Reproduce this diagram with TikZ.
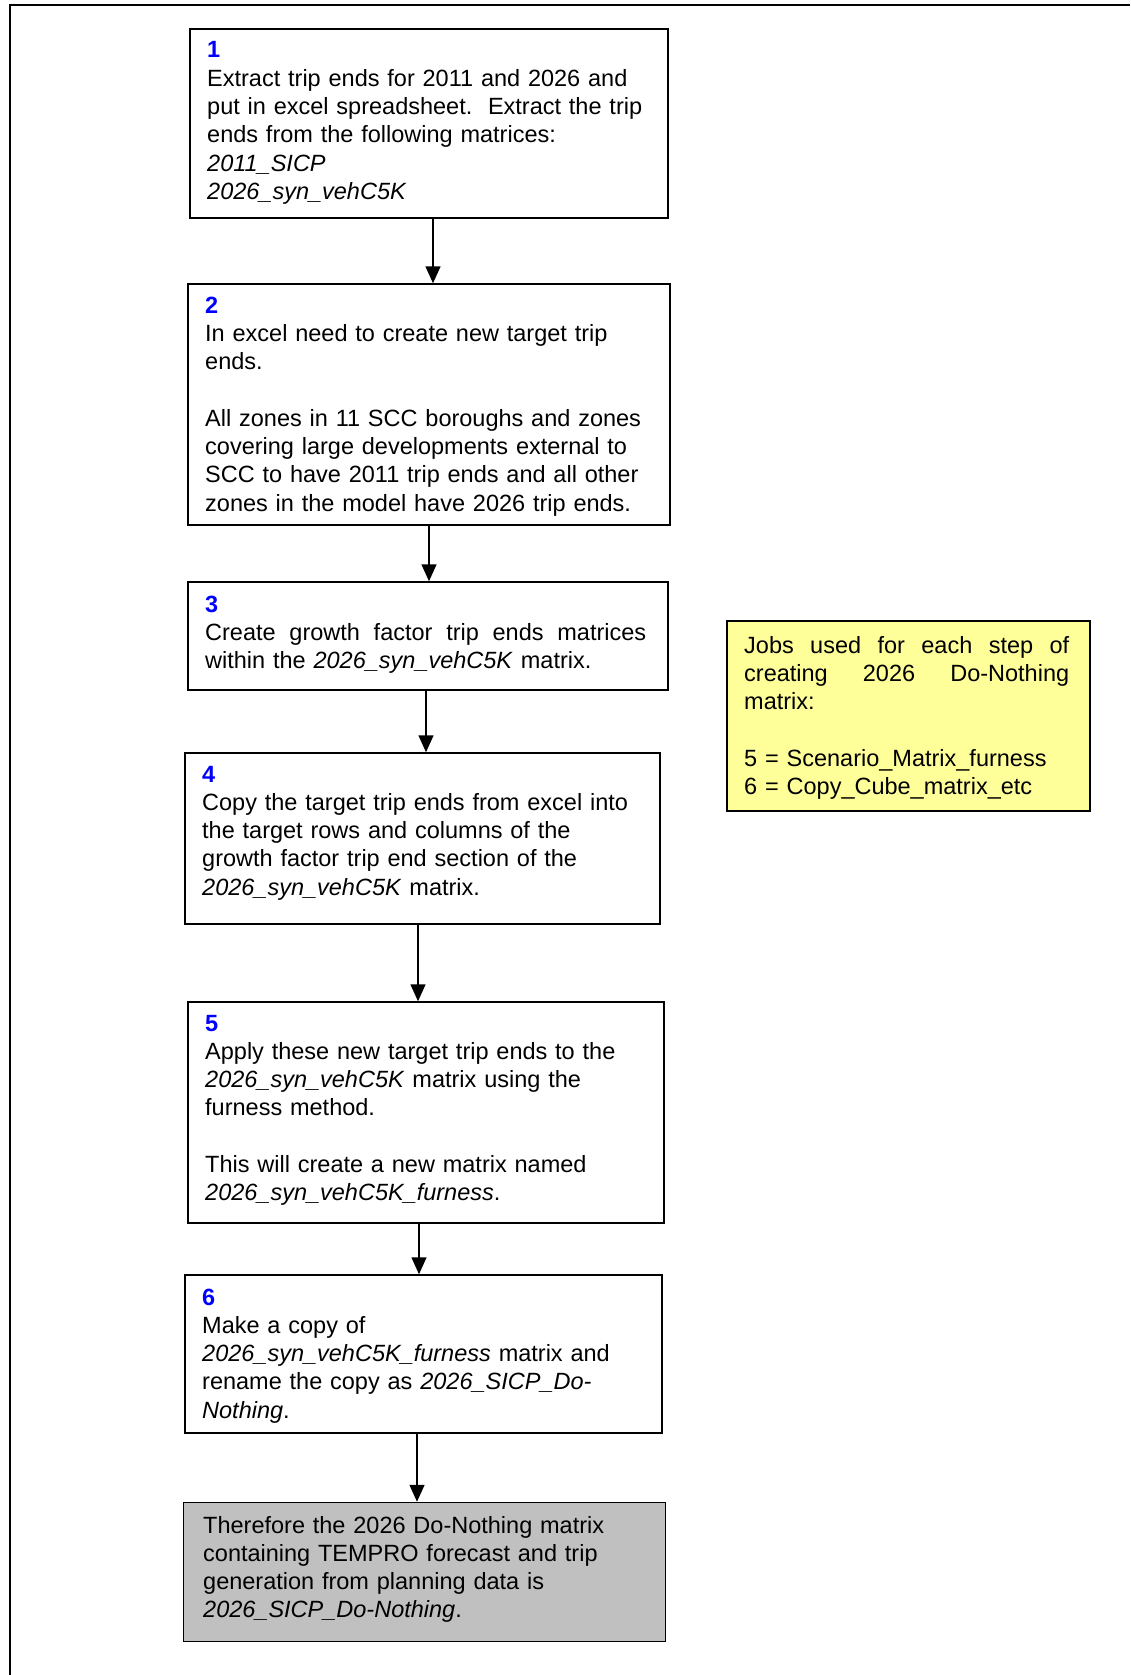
\documentclass[tikz,border=0pt]{standalone}
\usepackage{fontspec}
\setmainfont{Liberation Sans}
\usetikzlibrary{arrows.meta,calc}
\definecolor{numblue}{RGB}{0,0,255}
\definecolor{noteyellow}{RGB}{255,255,153}
\definecolor{boxgrey}{RGB}{192,192,192}
\newcommand{\stepnum}[1]{{\color{numblue}\bfseries #1}}
\begin{document}
\begin{tikzpicture}[x=1pt,y=-1pt,
  stepbox/.style={draw, line width=1.5pt, rectangle, inner sep=0pt},
  txt/.style={anchor=base west, inner sep=0pt, align=left, text width=455pt,
    font=\fontsize{23.5}{28.3}\selectfont},
  arr/.style={line width=1.5pt, -{Triangle[length=17pt,width=15pt]}}]
\useasboundingbox (0,0) rectangle (1130,1675);
% outer frame (top and left edges)
\draw[line width=2pt] (10,1675) -- (10,5) -- (1130,5);

% boxes
\node[stepbox, minimum width=478pt, minimum height=189pt] (b1) at (429,123.5) {};
\node[stepbox, minimum width=482pt, minimum height=241pt] (b2) at (429,404.5) {};
\node[stepbox, minimum width=480pt, minimum height=108pt] (b3) at (428,636) {};
\node[stepbox, minimum width=475pt, minimum height=171pt] (b4) at (422.5,838.5) {};
\node[stepbox, minimum width=476pt, minimum height=221pt] (b5) at (426,1112.5) {};
\node[stepbox, minimum width=477pt, minimum height=158pt] (b6) at (423.5,1354) {};
\node[stepbox, fill=boxgrey, minimum width=482pt, minimum height=139pt] (b7) at (424.5,1572) {};
\node[stepbox, fill=noteyellow, minimum width=363pt, minimum height=190pt] (note) at (908.5,716) {};

% texts
\node[txt] (t1) at (207,58) {\stepnum{1}\\
Extract trip ends for 2011 and 2026 and\\
put in excel spreadsheet.\ \ Extract the trip\\
ends from the following matrices:\\
\textit{2011\_SICP}\\
\textit{2026\_syn\_vehC5K}};

\node[txt] (t2) at (205,313) {\stepnum{2}\\
In excel need to create new target trip\\
ends.\\[28.3pt]
All zones in 11 SCC boroughs and zones\\
covering large developments external to\\
SCC to have 2011 trip ends and all other\\
zones in the model have 2026 trip ends.};

\node[txt] (t3) at (205,612) {\stepnum{3}\\
\makebox[441pt][l]{Create\hfill growth\hfill factor\hfill trip\hfill ends\hfill matrices}\\
within the \textit{2026\_syn\_vehC5K} matrix.};

\node[txt] (t4) at (202,782) {\stepnum{4}\\
Copy the target trip ends from excel into\\
the target rows and columns of the\\
growth factor trip end section of the\\
\textit{2026\_syn\_vehC5K} matrix.};

\node[txt] (t5) at (205,1031) {\stepnum{5}\\
Apply these new target trip ends to the\\
\textit{2026\_syn\_vehC5K} matrix using the\\
furness method.\\[28.3pt]
This will create a new matrix named\\
\textit{2026\_syn\_vehC5K\_furness}.};

\node[txt] (t6) at (202,1305) {\stepnum{6}\\
Make a copy of\\
\textit{2026\_syn\_vehC5K\_furness} matrix and\\
rename the copy as \textit{2026\_SICP\_Do-}\\
\textit{Nothing}.};

\node[txt] (t7) at (203,1533) {Therefore the 2026 Do-Nothing matrix\\
containing TEMPRO forecast and trip\\
generation from planning data is\\
\textit{2026\_SICP\_Do-Nothing}.};

\node[txt, text width=330pt] (tn) at (744,653) {\makebox[325pt][l]{Jobs\hfill used\hfill for\hfill each\hfill step\hfill of}\\
\makebox[325pt][l]{creating\hfill 2026\hfill Do-Nothing}\\
matrix:\\[28.3pt]
5 = Scenario\_Matrix\_furness\\
6 = Copy\_Cube\_matrix\_etc};

% connector x positions
\coordinate (x12) at (433,0);
\coordinate (x23) at (429,0);
\coordinate (x34) at (426,0);
\coordinate (x45) at (418,0);
\coordinate (x56) at (419,0);
\coordinate (x67) at (417,0);

\draw[arr] (b1.south -| x12) -- (b2.north -| x12);
\draw[arr] (b2.south -| x23) -- (b3.north -| x23);
\draw[arr] (b3.south -| x34) -- (b4.north -| x34);
\draw[arr] (b4.south -| x45) -- (b5.north -| x45);
\draw[arr] (b5.south -| x56) -- (b6.north -| x56);
\draw[arr] (b6.south -| x67) -- (b7.north -| x67);
\end{tikzpicture}
\end{document}
